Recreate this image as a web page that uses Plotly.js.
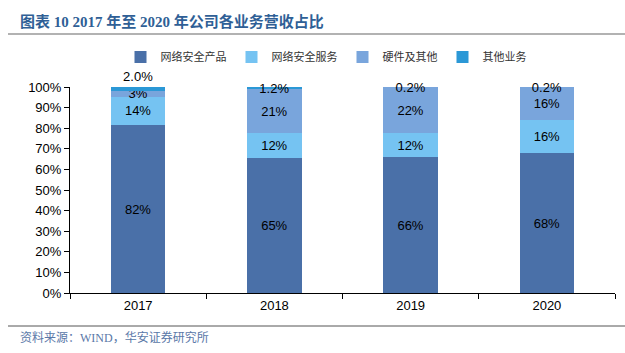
<!DOCTYPE html>
<html>
<head>
<meta charset="utf-8">
<script src="https://cdn.plot.ly/plotly-3.0.1.min.js"></script>
<style>html,body{margin:0;padding:0;background:#fff;}#chart{width:625px;height:353px;}</style>
</head>
<body>
<div id="chart"></div>
<script>
const years = ['2017', '2018', '2019', '2020'];
const seriesNames = ['网络安全产品', '网络安全服务', '硬件及其他', '其他业务'];
const products = [0.8154, 0.654, 0.658, 0.679];
const services = [0.1385, 0.123, 0.120, 0.159];
const hardware = [0.0265, 0.211, 0.220, 0.160];
const others = [0.0196, 0.012, 0.002, 0.002];
const colors = ['#4a70a8', '#75c3f2', '#79a5dc', '#2b98d6'];

const labelFont = {family: 'Liberation Sans, Arial, sans-serif', size: 13, color: '#000'};
function mk(name, vals, color, tmpl, pos) {
  return {
    type: 'bar', name: name, x: years, y: vals,
    marker: {color: color},
    texttemplate: tmpl,
    textposition: pos || 'inside',
    insidetextanchor: 'middle',
    constraintext: 'none',
    textfont: labelFont,
    insidetextfont: labelFont,
    outsidetextfont: labelFont,
    cliponaxis: false,
    hoverinfo: 'skip'
  };
}
const traces = [
  mk(seriesNames[0], products, colors[0], '%{y:.0%}'),
  mk(seriesNames[1], services, colors[1], '%{y:.0%}'),
  mk(seriesNames[2], hardware, colors[2], '%{y:.0%}'),
  mk(seriesNames[3], others, colors[3], '%{y:.1%}', ['outside', 'inside', 'inside', 'inside'])
];

const L = 70, R = 615, T = 87, B = 293;
const pw = R - L, ph = B - T;
const px = x => (x - L) / pw;
const py = y => (B - y) / ph;

const layout = {
  width: 625, height: 353,
  margin: {l: L, r: 625 - R, t: T, b: 353 - B, pad: 0},
  paper_bgcolor: '#fff', plot_bgcolor: '#fff',
  barmode: 'stack', bargap: 0.6,
  showlegend: true,
  legend: {
    orientation: 'h', x: px(326), xanchor: 'center', y: py(57), yanchor: 'middle',
    font: {family: 'Noto Sans CJK SC, sans-serif', size: 11, color: '#333'},
    itemwidth: 30, traceorder: 'normal', tracegroupgap: 0
  },
  xaxis: {
    type: 'category', showline: true, linecolor: '#000', linewidth: 1,
    ticks: 'outside', ticklen: 5, tickcolor: '#000', tickson: 'boundaries',
    showgrid: false, zeroline: false,
    tickfont: {family: 'Liberation Sans, Arial, sans-serif', size: 13, color: '#000'}
  },
  yaxis: {
    range: [0, 1], tickvals: [0,0.1,0.2,0.3,0.4,0.5,0.6,0.7,0.8,0.9,1], tickformat: '.0%',
    showline: true, linecolor: '#000', linewidth: 1,
    ticks: 'outside', ticklen: 5, tickcolor: '#000',
    showgrid: false, zeroline: false,
    tickfont: {family: 'Liberation Sans, Arial, sans-serif', size: 13, color: '#000'}
  },
  shapes: [
    {type: 'line', xref: 'paper', yref: 'paper', x0: px(8), x1: px(625), y0: py(34), y1: py(34), line: {color: '#999', width: 1.5}},
    {type: 'line', xref: 'paper', yref: 'paper', x0: px(8), x1: px(625), y0: py(326), y1: py(326), line: {color: '#555', width: 1}}
  ],
  annotations: [
    {xref: 'paper', yref: 'paper', x: px(18), y: py(22), xanchor: 'left', yanchor: 'middle', showarrow: false,
     text: '<b>图表 10 2017 年至 2020 年公司各业务营收占比</b>',
     font: {family: 'Liberation Serif, Noto Sans CJK SC, serif', size: 15, color: '#2f5f96'}},
    {xref: 'paper', yref: 'paper', x: px(18), y: py(337), xanchor: 'left', yanchor: 'middle', showarrow: false,
     text: '资料来源：WIND，华安证券研究所',
     font: {family: 'Liberation Serif, Noto Sans CJK SC, serif', size: 12, color: '#5a78a8'}}
  ]
};
Plotly.newPlot('chart', traces, layout, {displayModeBar: false, staticPlot: true});
</script>
</body>
</html>
